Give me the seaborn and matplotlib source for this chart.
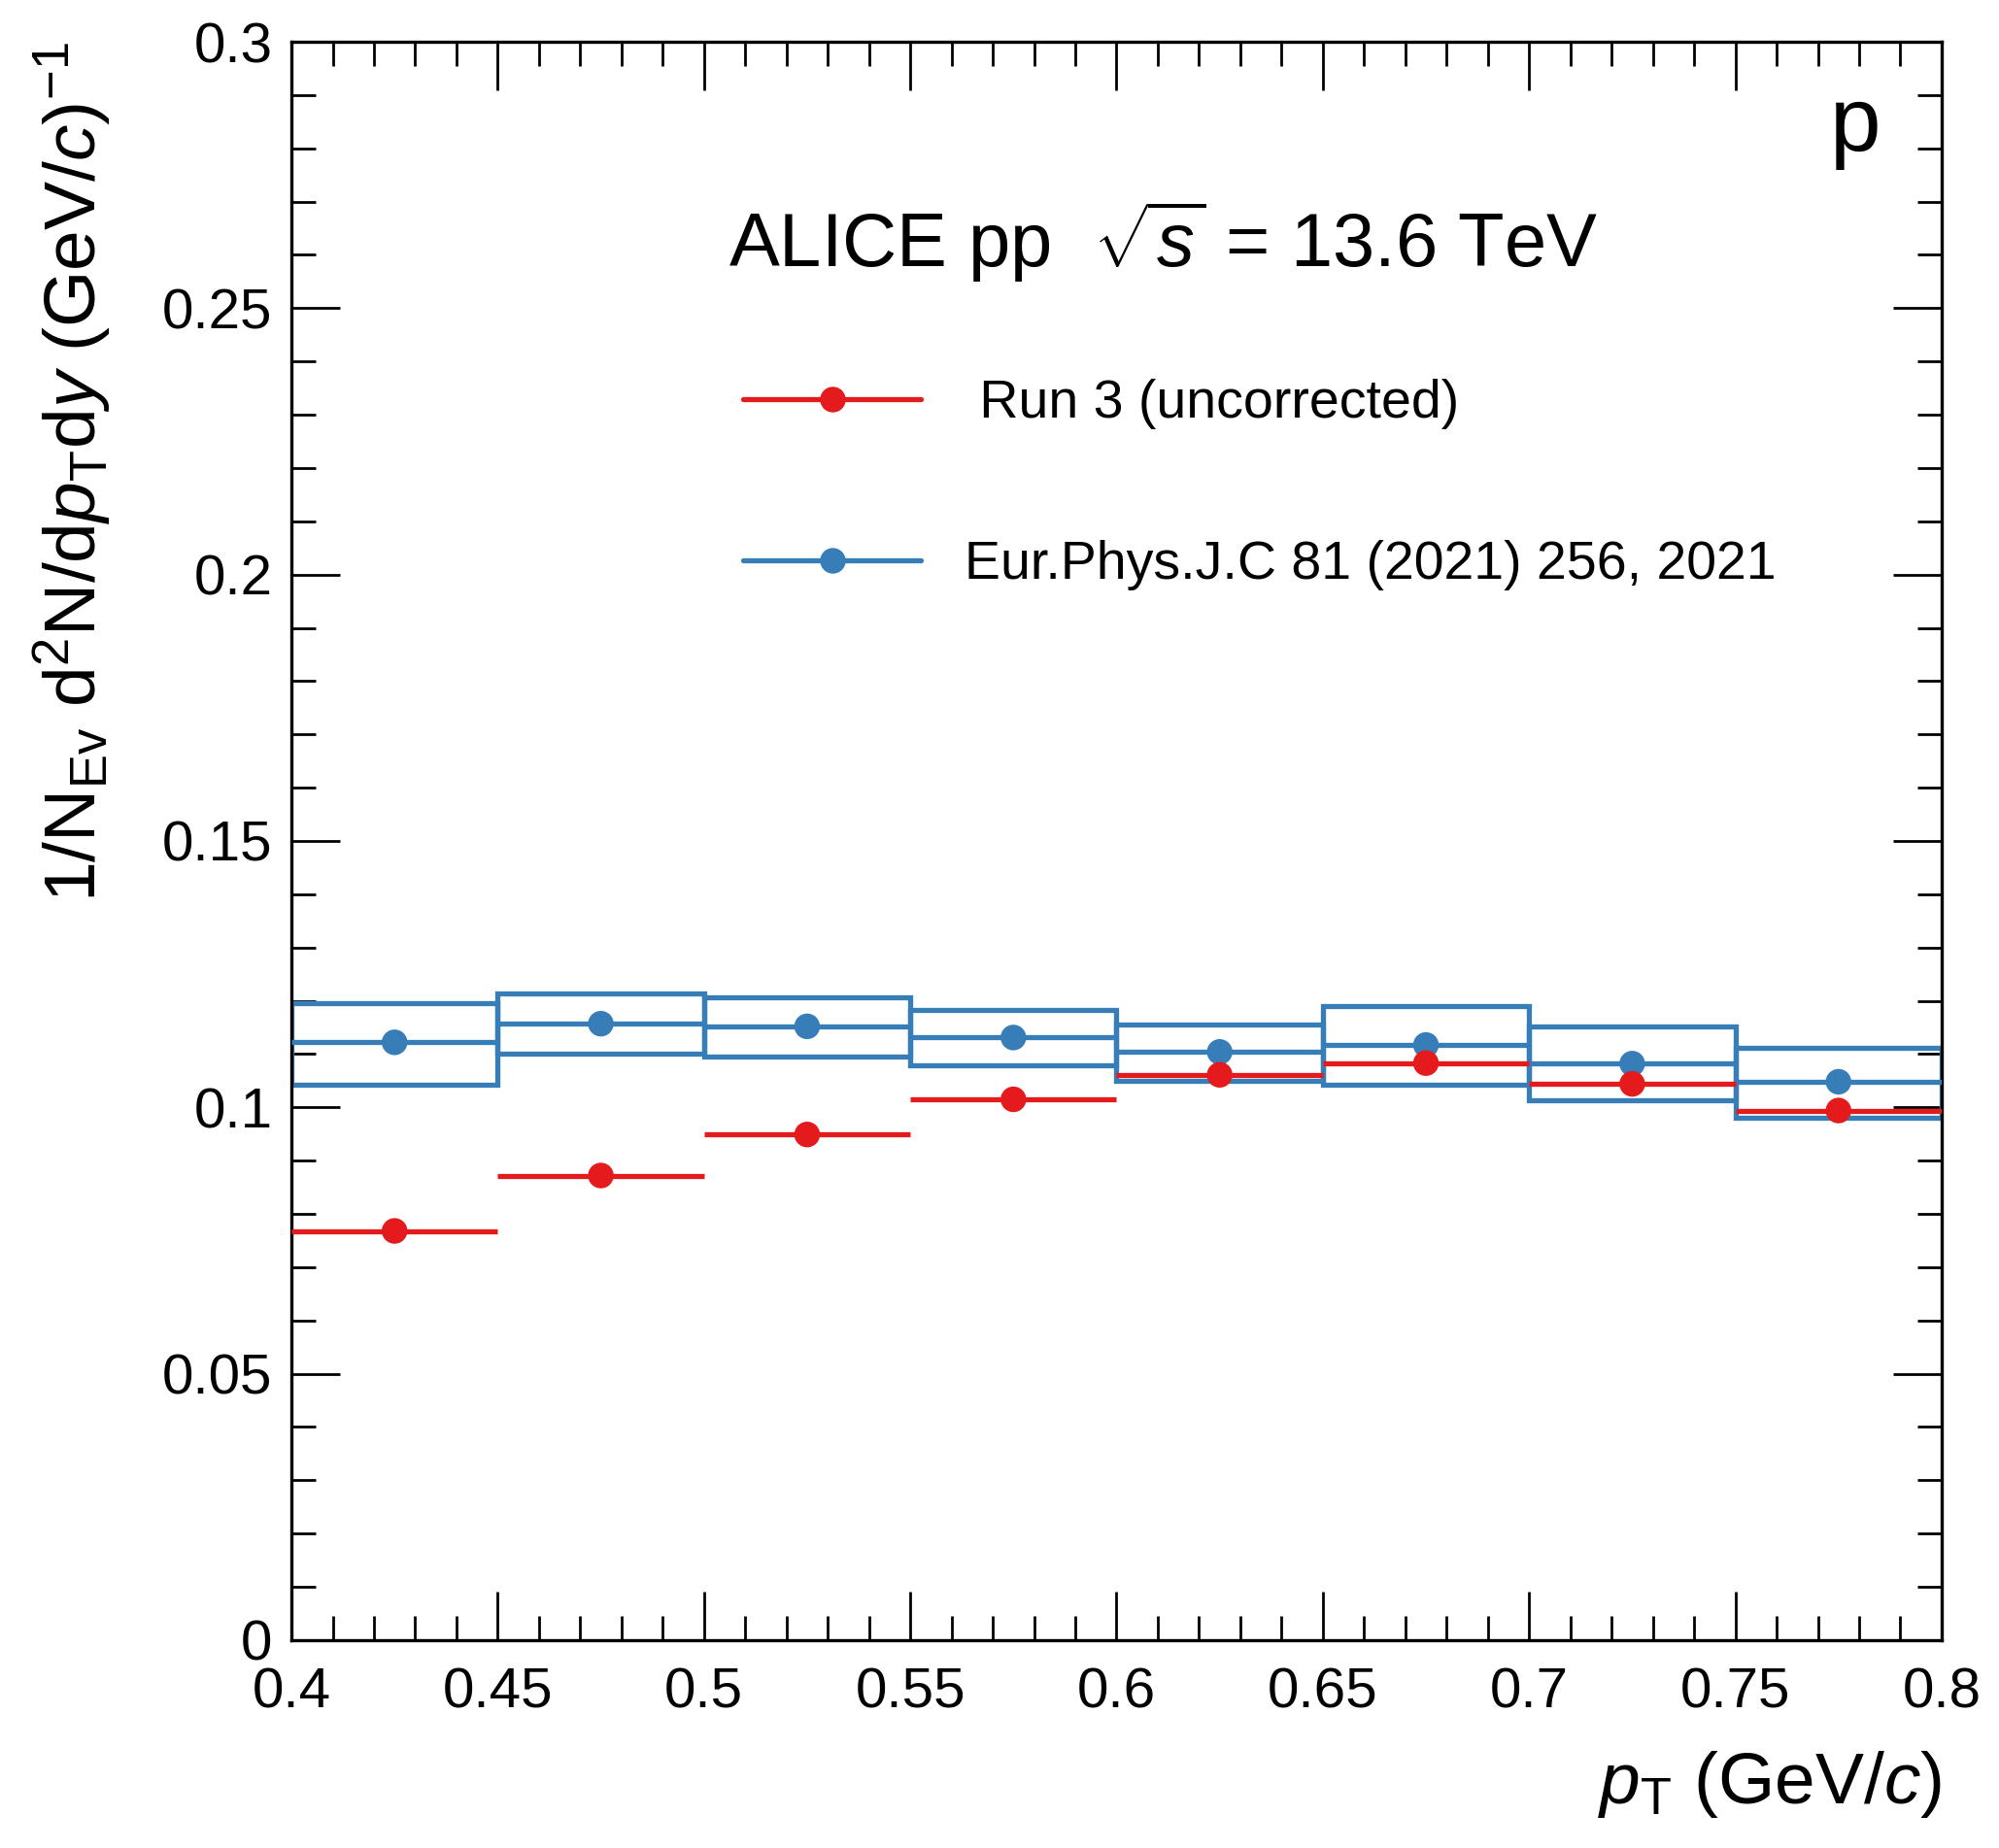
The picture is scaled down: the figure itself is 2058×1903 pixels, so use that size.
import numpy as np
import pandas as pd
import matplotlib
matplotlib.use("Agg")
import matplotlib.pyplot as plt
from matplotlib.lines import Line2D
from matplotlib.ticker import MultipleLocator, FixedFormatter, FixedLocator
import seaborn as sns

# ---- data ----
bin_lo = [0.40, 0.45, 0.50, 0.55, 0.60, 0.65, 0.70, 0.75]
bin_hi = [0.45, 0.50, 0.55, 0.60, 0.65, 0.70, 0.75, 0.80]
pt_center = [0.425, 0.475, 0.525, 0.575, 0.625, 0.675, 0.725, 0.775]
run3_yield = [0.0768, 0.0872, 0.0949, 0.1015, 0.1061, 0.1083, 0.1044, 0.0994]
ref_yield = [0.1122, 0.1157, 0.1152, 0.1131, 0.1104, 0.1117, 0.1082, 0.1048]
ref_sys_lo = [0.1043, 0.1100, 0.1096, 0.1079, 0.1050, 0.1043, 0.1013, 0.0981]
ref_sys_hi = [0.1196, 0.1213, 0.1207, 0.1182, 0.1156, 0.1190, 0.1151, 0.1112]
x_ticks = [0.40, 0.45, 0.50, 0.55, 0.60, 0.65, 0.70, 0.75, 0.80]
x_ticklabels = ["0.4", "0.45", "0.5", "0.55", "0.6", "0.65", "0.7", "0.75", "0.8"]
y_ticks = [0.0, 0.05, 0.10, 0.15, 0.20, 0.25, 0.30]
y_ticklabels = ["0", "0.05", "0.1", "0.15", "0.2", "0.25", "0.3"]
label_run3 = " Run 3 (uncorrected)"
label_ref = "Eur.Phys.J.C 81 (2021) 256, 2021"

RED = "#e41a1c"
BLUE = "#377eb8"

sns.set_theme(style="white")
plt.rcParams["font.family"] = ["Liberation Sans", "DejaVu Sans"]
plt.rcParams["mathtext.fontset"] = "custom"
plt.rcParams["mathtext.rm"] = "Liberation Sans"
plt.rcParams["mathtext.it"] = "Liberation Sans:italic"
plt.rcParams["mathtext.bf"] = "Liberation Sans:bold"
for k in ["text.color", "axes.labelcolor", "xtick.color", "ytick.color", "axes.edgecolor"]:
    plt.rcParams[k] = "black"

fig = plt.figure(figsize=(20.58, 19.03), dpi=100)
ax = fig.add_axes([0.1458, 0.1125, 0.8255, 0.8649])

df_run3 = pd.DataFrame({"pt": pt_center, "y": run3_yield, "lo": bin_lo, "hi": bin_hi})
df_ref = pd.DataFrame({"pt": pt_center, "y": ref_yield, "lo": bin_lo, "hi": bin_hi,
                       "slo": ref_sys_lo, "shi": ref_sys_hi})

LW = 3.8
MS = 19

# reference: systematic boxes
ax.bar(df_ref["pt"], df_ref["shi"] - df_ref["slo"], bottom=df_ref["slo"],
       width=np.array(df_ref["hi"]) - np.array(df_ref["lo"]),
       fill=False, edgecolor=BLUE, linewidth=LW, zorder=2)
ax.hlines(df_ref["y"], df_ref["lo"], df_ref["hi"], colors=BLUE, linewidth=LW, zorder=3)
ax.hlines(df_run3["y"], df_run3["lo"], df_run3["hi"], colors=RED, linewidth=LW, zorder=4)
sns.scatterplot(data=df_ref, x="pt", y="y", color=BLUE, s=MS**2, edgecolor="none",
                ax=ax, zorder=5, legend=False)
sns.scatterplot(data=df_run3, x="pt", y="y", color=RED, s=MS**2, edgecolor="none",
                ax=ax, zorder=6, legend=False)

ax.set_xlim(0.4, 0.8)
ax.set_ylim(0.0, 0.3)

ax.xaxis.set_major_locator(FixedLocator(x_ticks))
ax.xaxis.set_major_formatter(FixedFormatter(x_ticklabels))
ax.yaxis.set_major_locator(FixedLocator(y_ticks))
ax.yaxis.set_major_formatter(FixedFormatter(y_ticklabels))
ax.xaxis.set_minor_locator(MultipleLocator(0.01))
ax.yaxis.set_minor_locator(MultipleLocator(0.01))
ax.tick_params(which="both", direction="in", top=True, right=True, bottom=True, left=True,
               width=2.0, color="black")
ax.tick_params(which="major", length=36, labelsize=42, pad=14)
ax.tick_params(which="minor", length=18)
ax.tick_params(axis="x", which="major", pad=20)
for s in ax.spines.values():
    s.set_linewidth(2.4)
    s.set_color("black")
ax.grid(False)

ax.set_xlabel(r"$p_{\rm T}$ (GeV/$c$)", fontsize=54, loc="right")
ax.xaxis.set_label_coords(1.0, -0.068)
ax.set_ylabel(r"1/N$_{\rm Ev}$ d$^{2}$N/d$p_{\rm T}$d$y$ (GeV/$c$)$^{-1}$", fontsize=54, loc="top")
ax.yaxis.set_label_coords(-0.108, 1.0)

ax.text(0.265, 0.859, r"ALICE pp  $\sqrt{s}$ = 13.6 TeV", transform=ax.transAxes,
        fontsize=56, ha="left", va="baseline")
ax.text(0.948, 0.932, "p", transform=ax.transAxes, fontsize=68, ha="center", va="baseline")

handles = [Line2D([], [], color=RED, lw=LW, marker="o", markersize=MS, markeredgewidth=0),
           Line2D([], [], color=BLUE, lw=LW, marker="o", markersize=MS, markeredgewidth=0)]
ax.legend(handles, [label_run3, label_ref], loc="upper left", bbox_to_anchor=(0.2736, 0.789),
          frameon=False, fontsize=40, handlelength=3.3, handletextpad=0.8,
          labelspacing=2.05, borderpad=0, borderaxespad=0, numpoints=1)

fig.savefig("out.png", dpi=100)
